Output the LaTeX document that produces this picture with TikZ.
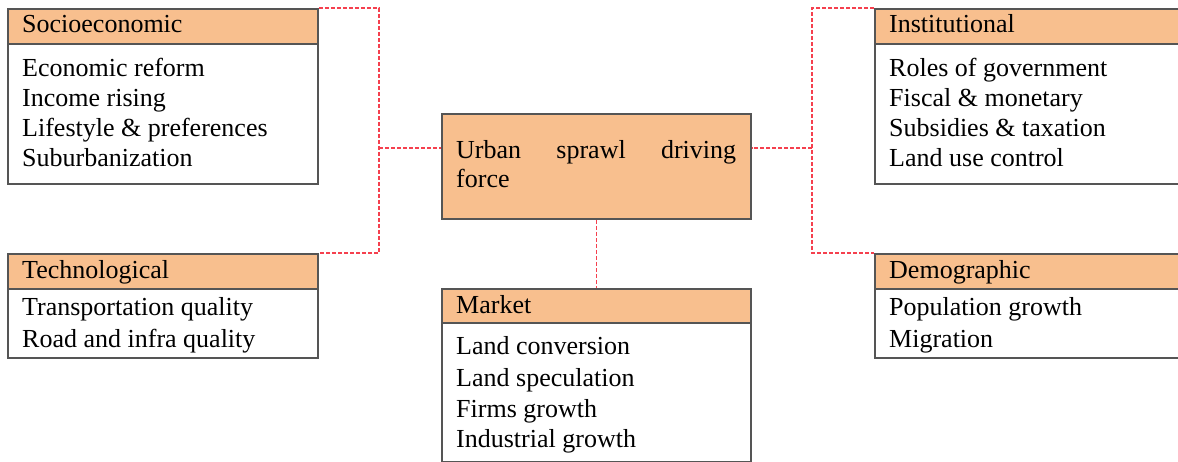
\documentclass[tikz,border=0pt]{standalone}
\usepackage{fontspec}
\setmainfont{Liberation Serif}
\definecolor{hdrfill}{HTML}{F8BF8E}
\definecolor{edgec}{HTML}{555555}
\definecolor{linkc}{HTML}{F5404E}
\begin{document}
\begin{tikzpicture}[x=1pt,y=-1pt,
  box/.style={draw=edgec, line width=1.8pt, fill=white, rectangle, inner sep=0pt, anchor=north west},
  hd/.style={draw=edgec, line width=1.8pt, fill=hdrfill, rectangle, inner sep=0pt, anchor=north west},
  txt/.style={anchor=base west, inner sep=0pt, font=\fontsize{26}{30}\selectfont},
  linkline/.style={draw=linkc, line width=1.2pt, dash pattern=on 4pt off 2pt}]
\useasboundingbox (0,0) rectangle (1178,462);
\clip (0,0) rectangle (1178,462);
% boxes
\node[box, minimum width=310pt, minimum height=175pt] (soc) at (7,8) {};
\node[hd, minimum width=310pt, minimum height=35pt] (soch) at (7,8) {};
\node[box, minimum width=310pt, minimum height=104pt] (tec) at (7,253) {};
\node[hd, minimum width=310pt, minimum height=35pt] (tech) at (7,253) {};
\node[box, minimum width=330pt, minimum height=175pt] (ins) at (874,8) {};
\node[hd, minimum width=330pt, minimum height=35pt] (insh) at (874,8) {};
\node[box, minimum width=330pt, minimum height=104pt] (dem) at (874,253) {};
\node[hd, minimum width=330pt, minimum height=35pt] (demh) at (874,253) {};
\node[hd, minimum width=309pt, minimum height=105pt] (ctr) at (441,113) {};
\node[box, minimum width=309pt, minimum height=173pt] (mkt) at (441,288) {};
\node[hd, minimum width=309pt, minimum height=34pt] (mkth) at (441,288) {};
% junctions
\coordinate (jl) at (379,148);
\coordinate (jr) at (812,148);
% connectors
\draw[linkline] (soc.north east) -| (jl) |- (tec.north east);
\draw[linkline] (jl) -- (jl -| ctr.west);
\draw[linkline] (ins.north west) -| (jr) |- (dem.north west);
\draw[linkline] (jr) -- (jr -| ctr.east);
\draw[linkline] (ctr.south) -- (mkt.north);
% texts
\node[txt] (t1) at (22,33) {Socioeconomic};
\node[txt] (t2) at (22,77) {Economic reform};
\node[txt] (t3) at (22,107) {Income rising};
\node[txt] (t4) at (22,137) {Lifestyle \& preferences};
\node[txt] (t5) at (22,167) {Suburbanization};
\node[txt] (t6) at (22,279) {Technological};
\node[txt] (t7) at (22,316) {Transportation quality};
\node[txt] (t8) at (22,347) {Road and infra quality};
\node[txt] (t9) at (889,33) {Institutional};
\node[txt] (t10) at (889,77) {Roles of government};
\node[txt] (t11) at (889,107) {Fiscal \& monetary};
\node[txt] (t12) at (889,137) {Subsidies \& taxation};
\node[txt] (t13) at (889,167) {Land use control};
\node[txt] (t14) at (889,279) {Demographic};
\node[txt] (t15) at (889,316) {Population growth};
\node[txt] (t16) at (889,347) {Migration};
\node[txt] (t17) at (456,159) {\makebox[280pt][s]{Urban sprawl driving}};
\node[txt] (t18) at (456,188) {force};
\node[txt] (t19) at (456,313) {Market};
\node[txt] (t20) at (456,355) {Land conversion};
\node[txt] (t21) at (456,386) {Land speculation};
\node[txt] (t22) at (456,417) {Firms growth};
\node[txt] (t23) at (456,447) {Industrial growth};
\end{tikzpicture}
\end{document}
